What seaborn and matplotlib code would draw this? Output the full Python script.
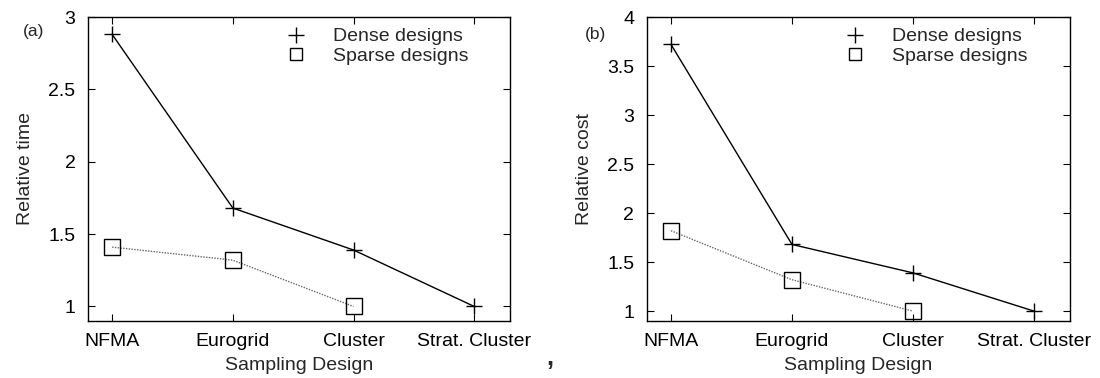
import matplotlib
matplotlib.use("Agg")
import matplotlib.pyplot as plt
import seaborn as sns
from matplotlib.lines import Line2D

categories = ["NFMA", "Eurogrid", "Cluster", "Strat. Cluster"]
time_dense = [2.88, 1.68, 1.39, 1.0]
time_sparse = [1.41, 1.32, 1.0]
cost_dense = [3.72, 1.68, 1.39, 1.0]
cost_sparse = [1.82, 1.32, 1.0]

sns.set_theme(style="ticks")
plt.rcParams['font.family'] = ['Liberation Sans', 'DejaVu Sans']
FS = 14

fig = plt.figure(figsize=(11, 3.78), dpi=100)
ax1 = fig.add_axes([0.080, 0.151, 0.384, 0.804])
ax2 = fig.add_axes([0.588, 0.151, 0.385, 0.804])

def panel(ax, dense, sparse, ylabel, ylim, yticks, ytlabels):
    xd = list(range(len(dense)))
    xs = list(range(len(sparse)))
    sns.lineplot(x=xd, y=dense, ax=ax, color="black", lw=1.0, legend=False)
    sns.lineplot(x=xs, y=sparse, ax=ax, color="#666666", lw=1.0,
                 linestyle=(0, (1, 1)), legend=False)
    ax.plot(xd, dense, ls="none", marker="+", markersize=11,
            color="black", markeredgewidth=1.0)
    ax.plot(xs, sparse, ls="none", marker="s", markersize=11,
            markerfacecolor="none", markeredgecolor="black", markeredgewidth=1.0)
    ax.set_xlim(-0.2, 3.3)
    ax.set_ylim(*ylim)
    ax.set_xticks(range(len(categories)))
    ax.set_xticklabels(categories, fontsize=FS)
    ax.set_yticks(yticks)
    ax.set_yticklabels(ytlabels, fontsize=FS)
    ax.tick_params(direction="in", top=True, right=True, length=5, width=0.8,
                   pad=9, colors="black")
    ax.set_xlabel("Sampling Design", fontsize=FS, labelpad=5)
    ax.set_ylabel(ylabel, fontsize=FS, labelpad=10)
    for s in ax.spines.values():
        s.set_linewidth(1.0)
        s.set_color("black")
    handles = [
        Line2D([], [], ls="none", marker="+", markersize=12, color="black", markeredgewidth=1.0),
        Line2D([], [], ls="none", marker="s", markersize=9, markerfacecolor="none",
               markeredgecolor="black", markeredgewidth=1.0),
    ]
    ax.legend(handles, ["Dense designs", "Sparse designs"], loc="upper left",
              bbox_to_anchor=(0.45, 0.99), frameon=False, fontsize=FS,
              handletextpad=1.4, labelspacing=0.1, borderaxespad=0.0,
              handlelength=1.0)

panel(ax1, time_dense, time_sparse, "Relative time", (0.9, 3.0),
      [1, 1.5, 2, 2.5, 3], ["1", "1.5", "2", "2.5", "3"])
panel(ax2, cost_dense, cost_sparse, "Relative cost", (0.9, 4.0),
      [1, 1.5, 2, 2.5, 3, 3.5, 4], ["1", "1.5", "2", "2.5", "3", "3.5", "4"])

fig.text(0.021, 0.905, "(a)", fontsize=12.5)
fig.text(0.532, 0.898, "(b)", fontsize=12.5)
fig.text(0.497, 0.035, ",", fontsize=18, fontweight="bold")

fig.savefig("out.png", dpi=100)
